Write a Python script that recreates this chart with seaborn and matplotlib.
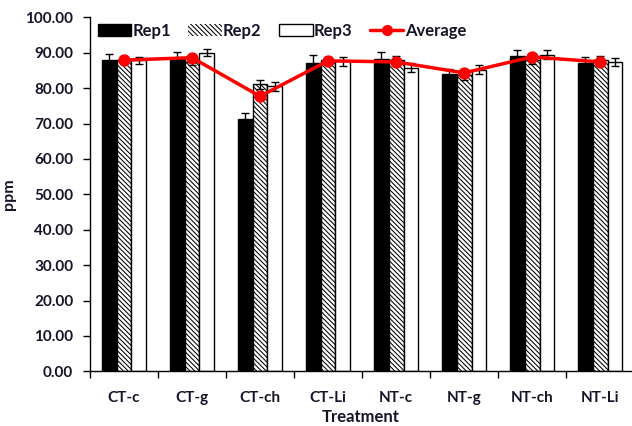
import matplotlib
matplotlib.use("Agg")
import matplotlib.pyplot as plt
from matplotlib.patches import Patch
from matplotlib.lines import Line2D
from matplotlib.ticker import FormatStrFormatter, FixedLocator
import seaborn as sns
import pandas as pd
import numpy as np

categories = ["CT-c", "CT-g", "CT-ch", "CT-Li", "NT-c", "NT-g", "NT-ch", "NT-Li"]
rep1 = [87.9, 88.5, 71.4, 87.1, 88.3, 84.1, 89.1, 87.2]
rep2 = [88.0, 87.5, 81.1, 87.8, 88.0, 83.6, 87.9, 87.8]
rep3 = [87.8, 90.0, 80.5, 87.6, 85.8, 85.2, 89.4, 87.4]
err1 = [1.7, 1.7, 1.7, 2.2, 1.8, 1.4, 1.6, 1.5]
err2 = [1.0, 1.0, 1.3, 1.0, 1.0, 1.3, 1.0, 1.2]
err3 = [1.0, 1.0, 1.2, 1.3, 1.3, 1.2, 1.3, 1.1]
average = [87.9, 88.6, 77.7, 87.7, 87.4, 84.3, 88.8, 87.4]
series = ["Rep1", "Rep2", "Rep3"]

sns.set_style("white")
plt.rcParams["font.family"] = ["Lato", "DejaVu Sans"]
plt.rcParams["font.weight"] = "bold"
plt.rcParams["hatch.linewidth"] = 0.75

HATCH = "\\\\\\\\\\\\\\"

df = pd.DataFrame({
    "Treatment": categories * 3,
    "ppm": rep1 + rep2 + rep3,
    "Rep": [s for s in series for _ in categories],
})
errs = [err1, err2, err3]

fig = plt.figure(figsize=(6.32, 4.26), dpi=100)
ax = fig.add_axes([90 / 632, 1 - 371.3 / 426, 542 / 632, 354 / 426])

palette = {"Rep1": "black", "Rep2": "white", "Rep3": "white"}
sns.barplot(data=df, x="Treatment", y="ppm", hue="Rep", order=categories,
            hue_order=series, palette=palette, errorbar=None, width=0.66,
            gap=0, edgecolor="black", linewidth=1.0, saturation=1,
            legend=False, ax=ax)

bar_containers = list(ax.containers)
for i, cont in enumerate(bar_containers):
    xs, hs = [], []
    for p in cont.patches:
        if i == 1:
            p.set_hatch(HATCH)
        xs.append(p.get_x() + p.get_width() / 2)
        hs.append(p.get_height())
    ax.errorbar(xs, hs, yerr=errs[i], fmt="none", ecolor="black",
                elinewidth=1.0, capsize=2.6, capthick=1.0, zorder=3)

n_lines = len(ax.lines)
sns.pointplot(x=categories, y=average, order=categories, color="red",
              markers="o", markersize=7, linewidth=2.5, errorbar=None, ax=ax)
for ln in ax.lines[n_lines:]:
    ln.set_zorder(5)

ax.set_ylim(0, 100)
ax.set_xlim(-0.5, 7.47)
ax.set_yticks(np.arange(0, 101, 10))
ax.yaxis.set_major_formatter(FormatStrFormatter("%.2f"))
ax.set_xticks(range(len(categories)))
ax.set_xticklabels(categories)
ax.xaxis.set_minor_locator(FixedLocator(np.arange(-0.5, 8, 1.0)))
ax.tick_params(axis="x", which="major", length=0, pad=14, labelsize=11,
               labelcolor="#15152a")
ax.tick_params(axis="x", which="minor", length=5, width=1, color="black",
               direction="out", bottom=True)
ax.tick_params(axis="y", length=5, width=1, color="black", direction="out",
               left=True, pad=7, labelsize=11, labelcolor="#15152a")
for lab in ax.get_xticklabels() + ax.get_yticklabels():
    lab.set_fontweight("bold")

sns.despine(ax=ax)
for s in ["left", "bottom"]:
    ax.spines[s].set_color("black")
    ax.spines[s].set_linewidth(1.0)

ax.set_xlabel("Treatment", fontsize=12, fontweight="bold", labelpad=3,
              color="#15152a")
ax.set_ylabel("ppm", fontsize=11.5, fontweight="bold", labelpad=7,
              color="#15152a")

handles = [
    Patch(facecolor="black", edgecolor="black", label="Rep1"),
    Patch(facecolor="white", edgecolor="none", hatch=HATCH, label="Rep2"),
    Patch(facecolor="white", edgecolor="black", label="Rep3"),
    Line2D([0], [0], color="red", lw=2.5, marker="o", markersize=7, label="Average"),
]
leg = ax.legend(handles=handles, loc="center left", bbox_to_anchor=(0.014, 0.962),
                ncol=4, frameon=False, borderpad=0, borderaxespad=0,
                handlelength=2.0, handleheight=0.75, handletextpad=0.08,
                columnspacing=1.05, prop={"weight": "bold", "size": 12})
for t in leg.get_texts():
    t.set_color("#15152a")
leg.legend_handles[1].set_edgecolor("black")
leg.legend_handles[1].set_linewidth(0)

fig.savefig("out.png", dpi=100)
